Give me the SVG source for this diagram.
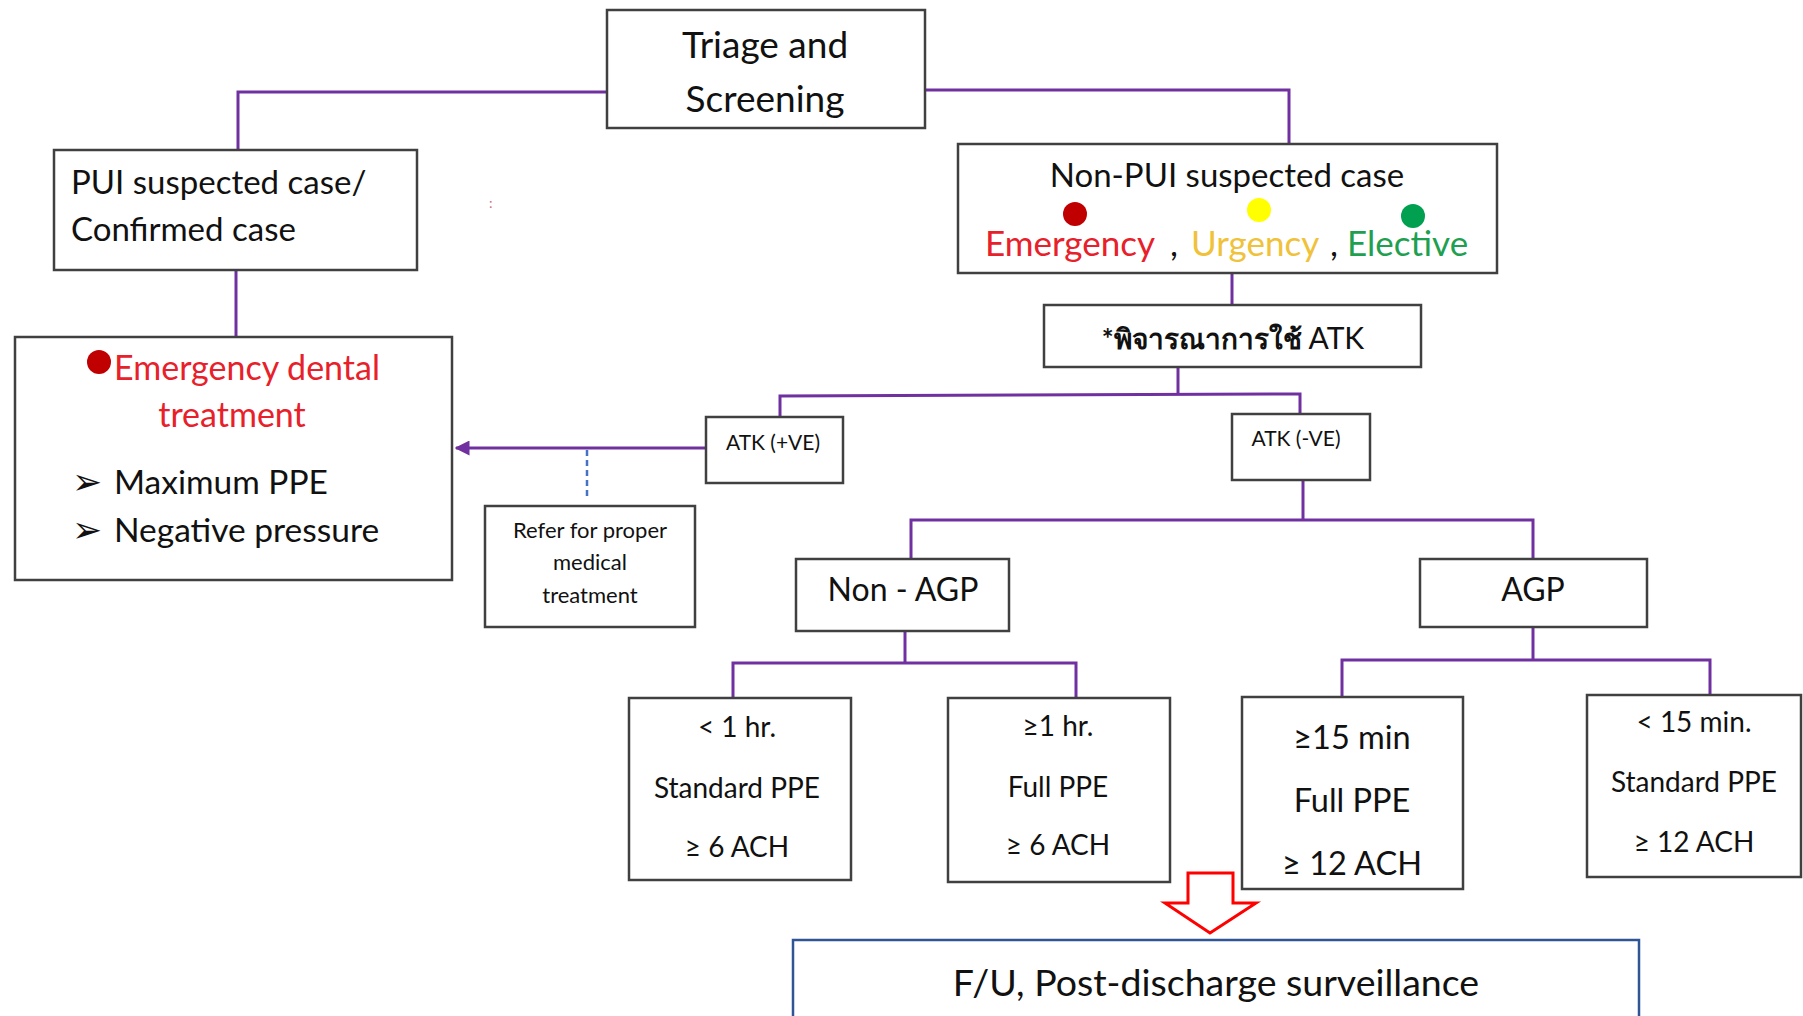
<svg xmlns="http://www.w3.org/2000/svg" width="1803" height="1016" viewBox="0 0 1803 1016">
<defs>
<style>
.box{fill:#fff;stroke:#404040;stroke-width:2.5}
.ln{fill:none;stroke:#7030A0;stroke-width:3}
.t{font-family:Lato,"Noto Sans","DejaVu Sans",sans-serif;fill:#111;text-anchor:middle}
.tl{font-family:Lato,"Noto Sans","DejaVu Sans",sans-serif;fill:#111}
</style>
<marker id="ah" viewBox="0 0 10 10" refX="9" refY="5" markerWidth="5" markerHeight="5" orient="auto-start-reverse">
<path d="M0,0 L10,5 L0,10 z" fill="#7030A0"/>
</marker>
</defs>
<rect width="1803" height="1016" fill="#fff"/>

<g id="connectors">
<polyline class="ln" points="607,92 238,92 238,150"/>
<polyline class="ln" points="925,90 1289,90 1289,144"/>
<line class="ln" x1="236" y1="270" x2="236" y2="337"/>
<line class="ln" x1="1232" y1="273" x2="1232" y2="305"/>
<polyline class="ln" points="1178,367 1178,394"/>
<polyline class="ln" points="780,417 780,396 1300,394 1300,414"/>
<line class="ln" x1="706" y1="448" x2="456" y2="448" marker-end="url(#ah)"/>
<line x1="587" y1="450" x2="587" y2="500" stroke="#4472C4" stroke-width="2.5" stroke-dasharray="6,4"/>
<line class="ln" x1="1303" y1="480" x2="1303" y2="520"/>
<polyline class="ln" points="911,559 911,520 1533,520 1533,559"/>
<line class="ln" x1="905" y1="631" x2="905" y2="663"/>
<polyline class="ln" points="733,698 733,663 1076,663 1076,698"/>
<line class="ln" x1="1533" y1="627" x2="1533" y2="660"/>
<polyline class="ln" points="1342,697 1342,660 1710,660 1710,695"/>
</g>

<g id="triage">
<rect class="box" x="607" y="10" width="318" height="118"/>
<text class="t" x="765" y="58" font-size="37">Triage and</text>
<text class="t" x="765" y="112" font-size="37">Screening</text>
</g>

<g id="pui">
<rect class="box" x="54" y="150" width="363" height="120"/>
<text class="tl" x="71" y="194" font-size="33">PUI suspected case/</text>
<text class="tl" x="71" y="241" font-size="33">Confirmed case</text>
</g>

<text x="489" y="208" font-family="Lato,sans-serif" font-size="14" fill="#d07080">:</text>

<g id="emergency">
<rect class="box" x="15" y="337" width="437" height="243"/>
<circle cx="99" cy="362" r="12" fill="#C00000"/>
<text class="t" x="247" y="380" font-size="34" style="fill:#E8202A">Emergency dental</text>
<text class="t" x="232" y="427" font-size="34" style="fill:#E8202A">treatment</text>
<text class="tl" x="72" y="494" font-size="36">➢</text>
<text class="tl" x="114" y="494" font-size="33.5">Maximum PPE</text>
<text class="tl" x="72" y="542" font-size="36">➢</text>
<text class="tl" x="114" y="542" font-size="33.5">Negative pressure</text>
</g>

<g id="nonpui">
<rect class="box" x="958" y="144" width="539" height="129"/>
<text class="t" x="1227" y="187" font-size="33">Non-PUI suspected case</text>
<circle cx="1075" cy="214" r="12" fill="#C00000"/>
<circle cx="1259" cy="210" r="12" fill="#FFFF00"/>
<circle cx="1413" cy="216" r="12" fill="#00A050"/>
<text class="tl" x="985" y="256" font-size="35" style="fill:#E8202A">Emergency</text>
<text class="tl" x="1170" y="256" font-size="35">,</text>
<text class="tl" x="1191" y="256" font-size="35" style="fill:#F0C23A">Urgency</text>
<text class="tl" x="1330" y="256" font-size="35">,</text>
<text class="tl" x="1347" y="256" font-size="35" style="fill:#1FA050">Elective</text>
</g>

<g id="atk">
<rect class="box" x="1044" y="305" width="377" height="62"/>
<text class="t" x="1233" y="349" font-size="28" font-weight="bold">*พิจารณาการใช้ <tspan font-weight="normal" font-size="30">ATK</tspan></text>
</g>

<g id="atkpos">
<rect class="box" x="706" y="417" width="137" height="66"/>
<text class="t" x="773" y="450" font-size="21">ATK (+VE)</text>
</g>

<g id="atkneg">
<rect class="box" x="1232" y="414" width="138" height="66"/>
<text class="t" x="1296" y="446" font-size="21">ATK (-VE)</text>
</g>

<g id="refer">
<rect class="box" x="485" y="506" width="210" height="121"/>
<text class="t" x="590" y="538" font-size="22">Refer for proper</text>
<text class="t" x="590" y="570" font-size="22">medical</text>
<text class="t" x="590" y="603" font-size="22">treatment</text>
</g>

<g id="nonagp">
<rect class="box" x="796" y="559" width="213" height="72"/>
<text class="t" x="903" y="601" font-size="32">Non - AGP</text>
</g>

<g id="agp">
<rect class="box" x="1420" y="559" width="227" height="68"/>
<text class="t" x="1533" y="601" font-size="32">AGP</text>
</g>

<g id="lt1hr">
<rect class="box" x="629" y="698" width="222" height="182"/>
<text class="t" x="737" y="737" font-size="28">&lt; 1 hr.</text>
<text class="t" x="737" y="798" font-size="28">Standard PPE</text>
<text class="t" x="737" y="857" font-size="28">≥ 6 ACH</text>
</g>

<g id="ge1hr">
<rect class="box" x="948" y="698" width="222" height="184"/>
<text class="t" x="1058" y="736" font-size="28">≥1 hr.</text>
<text class="t" x="1058" y="797" font-size="28">Full PPE</text>
<text class="t" x="1058" y="855" font-size="28">≥ 6 ACH</text>
</g>

<g id="ge15">
<rect class="box" x="1242" y="697" width="221" height="192"/>
<text class="t" x="1352" y="749" font-size="32.5">≥15 min</text>
<text class="t" x="1352" y="812" font-size="32.5">Full PPE</text>
<text class="t" x="1352" y="875" font-size="32.5">≥ 12 ACH</text>
</g>

<g id="lt15">
<rect class="box" x="1587" y="695" width="214" height="182"/>
<text class="t" x="1694" y="732" font-size="28">&lt; 15 min.</text>
<text class="t" x="1694" y="792" font-size="28">Standard PPE</text>
<text class="t" x="1694" y="852" font-size="28">≥ 12 ACH</text>
</g>

<g id="downarrow">
<path d="M1188,873 L1233,873 L1233,903 L1256,903 L1210,933 L1165,903 L1188,903 Z" fill="#fff" stroke="#FF0000" stroke-width="3" stroke-linejoin="miter"/>
</g>

<g id="fu">
<rect x="793" y="940" width="846" height="90" fill="#fff" stroke="#2F5597" stroke-width="2.5"/>
<text class="t" x="1216" y="996" font-size="37.5">F/U, Post-discharge surveillance</text>
</g>
</svg>
